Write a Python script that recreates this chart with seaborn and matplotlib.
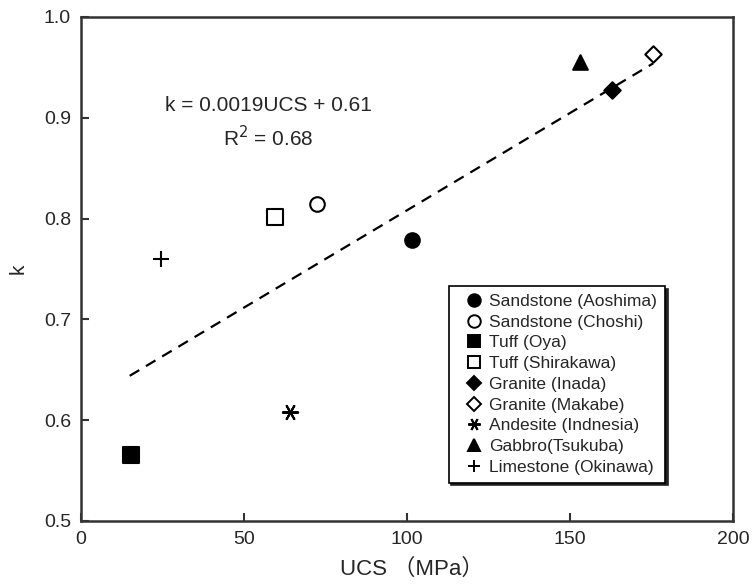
import matplotlib
matplotlib.use("Agg")
import matplotlib.pyplot as plt
from matplotlib.lines import Line2D
import seaborn as sns

# ---- data ----
rocks = ["Sandstone (Aoshima)", "Sandstone (Choshi)", "Tuff (Oya)", "Tuff (Shirakawa)",
         "Granite (Inada)", "Granite (Makabe)", "Andesite (Indnesia)", "Gabbro(Tsukuba)",
         "Limestone (Okinawa)"]
ucs = [101.5, 72.4, 15.3, 59.5, 162.9, 175.5, 64.1, 153.0, 24.5]
k_vals = [0.779, 0.814, 0.565, 0.802, 0.928, 0.963, 0.608, 0.955, 0.760]
trend_x = [15.0, 175.5]
trend_y = [0.644, 0.954]
x_ticks = [0, 50, 100, 150, 200]
y_ticks = [0.5, 0.6, 0.7, 0.8, 0.9, 1.0]

# ---- styles ----
marker_styles = [
    dict(marker="o", facecolor="black", s=110),
    dict(marker="o", facecolor="white", s=110),
    dict(marker="s", facecolor="black", s=120),
    dict(marker="s", facecolor="white", s=120),
    dict(marker="D", facecolor="black", s=70),
    dict(marker="D", facecolor="white", s=70),
    dict(marker=(6, 2, 90), facecolor="black", s=120),
    dict(marker="^", facecolor="black", s=110),
    dict(marker="+", facecolor="black", s=140),
]

sns.set_theme(style="white")
plt.rcParams["font.family"] = ["Liberation Sans", "Noto Sans CJK JP", "DejaVu Sans"]

fig = plt.figure(figsize=(7.55, 5.86), dpi=100)
ax = fig.add_axes([0.107, 0.111, 0.864, 0.860])

handles = []
for name, xv, yv, st in zip(rocks, ucs, k_vals, marker_styles):
    line_art = st["marker"] in ("+",) or isinstance(st["marker"], tuple)
    if line_art:
        sns.scatterplot(x=[xv], y=[yv], marker=st["marker"], s=st["s"], color="black",
                        linewidth=1.5, ax=ax, legend=False)
    else:
        sns.scatterplot(x=[xv], y=[yv], marker=st["marker"], s=st["s"],
                        facecolor=st["facecolor"], edgecolor="black", linewidth=1.5,
                        ax=ax, legend=False)
    handles.append(Line2D([], [], linestyle="none", marker=st["marker"],
                          markersize=9 if st["marker"] != "D" else 7,
                          markerfacecolor=st["facecolor"], markeredgecolor="black",
                          markeredgewidth=1.4, color="black", label=name))

sns.lineplot(x=trend_x, y=trend_y, ax=ax, color="black", linestyle=(0, (5, 3.5)),
             linewidth=1.6)

ax.text(57.5, 0.912, "k = 0.0019UCS + 0.61", ha="center", va="center", fontsize=15)
ax.text(57.5, 0.880, "R$^2$ = 0.68", ha="center", va="center", fontsize=15)

ax.set_xlim(0, 200)
ax.set_ylim(0.5, 1.0)
ax.set_xticks(x_ticks)
ax.set_yticks(y_ticks)
ax.set_xticklabels([str(v) for v in x_ticks])
ax.set_yticklabels([f"{v:.1f}" for v in y_ticks])
ax.tick_params(direction="in", length=6, width=1.5, labelsize=14, color="#333333",
               bottom=True, left=True, top=False, right=False, pad=7)
ax.set_xlabel("UCS （MPa）", fontsize=16, labelpad=5)
ax.xaxis.set_label_coords(0.508, -0.075)
ax.set_ylabel("k", fontsize=15, labelpad=12)
for sp in ax.spines.values():
    sp.set_visible(True)
    sp.set_color("#333333")
    sp.set_linewidth(1.8)

leg = ax.legend(handles=handles, loc="upper left", bbox_to_anchor=(0.564, 0.466),
                frameon=True, fancybox=False, shadow={"color": "#222222", "alpha": 1.0},
                edgecolor="black", fontsize=12.5, labelspacing=0.32,
                handlelength=2.0, handletextpad=-0.1, borderpad=0.45, borderaxespad=0)
leg.get_frame().set_linewidth(1.2)

fig.savefig("out.png", dpi=100, facecolor="white")
